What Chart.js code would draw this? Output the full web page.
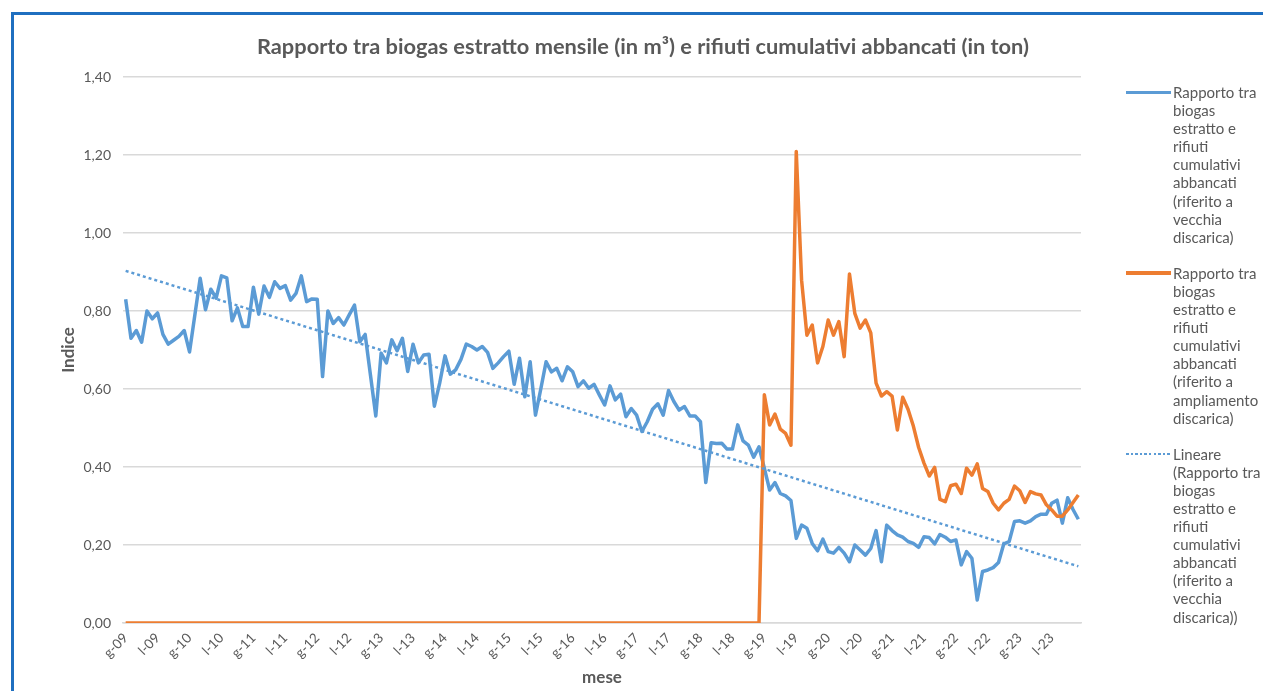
<!DOCTYPE html>
<html>
<head>
<meta charset="utf-8">
<script src="https://cdn.jsdelivr.net/npm/chart.js@4/dist/chart.umd.min.js"></script>
<style>
  html, body { margin: 0; padding: 0; background: #fff; }
  #wrap { position: relative; width: 1263px; height: 691px; overflow: hidden; background: #fff; }
  #frameTop { position: absolute; left: 11px; top: 12px; right: 0; height: 3px; background: #1f6fc0; }
  #frameLeft { position: absolute; left: 11px; top: 12px; width: 3px; bottom: 0; background: #1f6fc0; }
  #title { position: absolute; left: 0; width: 1286px; top: 32px; text-align: center; line-height: 26px;
           font: bold 21.8px Lato, sans-serif; color: #595959; white-space: nowrap; }
  #chart { position: absolute; left: 0; top: 0; }
  #legend { position: absolute; left: 1126px; top: 83px; width: 137px;
            font: 15px Lato, sans-serif; color: #595959; line-height: 18.1px; }
  .item { position: relative; padding-left: 47px; margin-bottom: 18px; }
  .swatch { position: absolute; left: 0; top: 7.5px; width: 45px; height: 3.5px; }
  .swatch.dot { top: 8px; height: 2.5px; }
</style>
</head>
<body>
<div id="wrap">
  <canvas id="chart" width="1263" height="691"></canvas>
  <div id="frameTop"></div>
  <div id="frameLeft"></div>
  <div id="title"></div>
  <div id="legend"></div>
</div>
<script>
// ---------- data ----------
const chartTitle = 'Rapporto tra biogas estratto mensile (in m³) e rifiuti cumulativi abbancati (in ton)';
const xAxisTitle = 'mese';
const yAxisTitle = 'Indice';

const monthInitials = ['g', 'f', 'm', 'a', 'm', 'g', 'l', 'a', 's', 'o', 'n', 'd'];
const years = ['09', '10', '11', '12', '13', '14', '15', '16', '17', '18', '19', '20', '21', '22', '23'];
const categories = years.flatMap(y => monthInitials.map(m => m + '-' + y));

const yTicks = [0, 0.2, 0.4, 0.6, 0.8, 1.0, 1.2, 1.4];

const seriesNames = [
  ['Rapporto tra', 'biogas', 'estratto e', 'rifiuti', 'cumulativi', 'abbancati', '(riferito a', 'vecchia', 'discarica)'],
  ['Rapporto tra', 'biogas', 'estratto e', 'rifiuti', 'cumulativi', 'abbancati', '(riferito a', 'ampliamento', 'discarica)'],
  ['Lineare', '(Rapporto tra', 'biogas', 'estratto e', 'rifiuti', 'cumulativi', 'abbancati', '(riferito a', 'vecchia', 'discarica))']
];

const vecchiaValues = [
  0.83, 0.73, 0.75, 0.72, 0.80, 0.78, 0.795, 0.74, 0.715, 0.725, 0.735, 0.75,
  0.695, 0.79, 0.884, 0.803, 0.856, 0.833, 0.89, 0.885, 0.775, 0.808, 0.76, 0.76,
  0.861, 0.792, 0.864, 0.835, 0.875, 0.858, 0.865, 0.828, 0.845, 0.89, 0.824, 0.831,
  0.83, 0.632, 0.80, 0.768, 0.783, 0.764, 0.79, 0.815, 0.721, 0.74, 0.635, 0.531,
  0.692, 0.667, 0.726, 0.698, 0.73, 0.645, 0.715, 0.667, 0.687, 0.689, 0.556, 0.615,
  0.685, 0.638, 0.649, 0.676, 0.715, 0.709, 0.70, 0.709, 0.694, 0.653, 0.667, 0.683,
  0.697, 0.612, 0.679, 0.58, 0.67, 0.533, 0.60, 0.67, 0.644, 0.653, 0.621, 0.657,
  0.644, 0.606, 0.621, 0.602, 0.612, 0.585, 0.559, 0.608, 0.572, 0.587, 0.529, 0.55,
  0.533, 0.491, 0.516, 0.548, 0.562, 0.533, 0.596, 0.568, 0.546, 0.555, 0.531, 0.531,
  0.516, 0.36, 0.462, 0.46, 0.461, 0.446, 0.446, 0.508, 0.467, 0.456, 0.425, 0.452,
  0.397, 0.341, 0.36, 0.332, 0.326, 0.314, 0.217, 0.251, 0.243, 0.204, 0.185, 0.215,
  0.183, 0.179, 0.194, 0.179, 0.157, 0.20, 0.187, 0.174, 0.191, 0.237, 0.157, 0.251,
  0.237, 0.226, 0.22, 0.209, 0.204, 0.194, 0.221, 0.219, 0.203, 0.227, 0.22, 0.209,
  0.213, 0.149, 0.183, 0.166, 0.059, 0.132, 0.136, 0.142, 0.155, 0.203, 0.209, 0.26,
  0.262, 0.256, 0.262, 0.273, 0.279, 0.279, 0.307, 0.315, 0.256, 0.321, 0.291, 0.266
];

const ampliamentoValues = [
  0, 0, 0, 0, 0, 0, 0, 0, 0, 0, 0, 0,
  0, 0, 0, 0, 0, 0, 0, 0, 0, 0, 0, 0,
  0, 0, 0, 0, 0, 0, 0, 0, 0, 0, 0, 0,
  0, 0, 0, 0, 0, 0, 0, 0, 0, 0, 0, 0,
  0, 0, 0, 0, 0, 0, 0, 0, 0, 0, 0, 0,
  0, 0, 0, 0, 0, 0, 0, 0, 0, 0, 0, 0,
  0, 0, 0, 0, 0, 0, 0, 0, 0, 0, 0, 0,
  0, 0, 0, 0, 0, 0, 0, 0, 0, 0, 0, 0,
  0, 0, 0, 0, 0, 0, 0, 0, 0, 0, 0, 0,
  0, 0, 0, 0, 0, 0, 0, 0, 0, 0, 0, 0,
  0.585, 0.508, 0.536, 0.497, 0.486, 0.456, 1.209, 0.879, 0.738, 0.764, 0.667, 0.709,
  0.777, 0.738, 0.773, 0.683, 0.895, 0.794, 0.756, 0.777, 0.744, 0.615, 0.582, 0.593,
  0.582, 0.495, 0.579, 0.548, 0.505, 0.45, 0.41, 0.377, 0.399, 0.317, 0.311, 0.352,
  0.356, 0.332, 0.397, 0.379, 0.408, 0.345, 0.337, 0.307, 0.29, 0.307, 0.317, 0.351,
  0.339, 0.309, 0.337, 0.331, 0.328, 0.303, 0.29, 0.274, 0.274, 0.29, 0.309, 0.328
];

// linear trendline (least squares) of the "vecchia discarica" series, as Excel's "Lineare"
function linearTrend(values) {
  const n = values.length;
  let sx = 0, sy = 0, sxy = 0, sxx = 0;
  values.forEach((v, i) => { const x = i + 1; sx += x; sy += v; sxy += x * v; sxx += x * x; });
  const b = (n * sxy - sx * sy) / (n * sxx - sx * sx);
  const a = (sy - b * sx) / n;
  return values.map((v, i) => a + b * (i + 1));
}
const trendValues = linearTrend(vecchiaValues);

// ---------- styles ----------
const BLUE = '#5B9BD5';
const ORANGE = '#ED7D31';
const TEXT = '#595959';
const GRID = '#D9D9D9';
const FONT = 'Lato, sans-serif';

document.getElementById('title').textContent = chartTitle;

const chart = new Chart(document.getElementById('chart').getContext('2d'), {
  type: 'line',
  data: {
    labels: categories,
    datasets: [
      { label: seriesNames[0].join(' '), data: vecchiaValues, borderColor: BLUE, backgroundColor: BLUE,
        borderWidth: 3.5, pointRadius: 0, tension: 0, order: 3, borderJoinStyle: 'round' },
      { label: seriesNames[1].join(' '), data: ampliamentoValues, borderColor: ORANGE, backgroundColor: ORANGE,
        borderWidth: 3.5, pointRadius: 0, tension: 0, order: 2, borderJoinStyle: 'round' },
      { label: seriesNames[2].join(' '), data: trendValues, borderColor: BLUE, backgroundColor: BLUE,
        borderWidth: 2.5, borderDash: [3, 3], pointRadius: 0, tension: 0, order: 1 }
    ]
  },
  options: {
    responsive: false,
    animation: false,
    layout: { padding: { left: 0, right: 182, top: 77, bottom: 0 } },
    plugins: { legend: { display: false }, title: { display: false }, tooltip: { enabled: false } },
    scales: {
      x: {
        offset: true,
        grid: { display: false, drawTicks: false },
        border: { display: true, color: GRID, width: 1.5 },
        ticks: {
          autoSkip: false, maxRotation: 45, minRotation: 45, padding: 7,
          color: TEXT, font: { family: FONT, size: 13.5 },
          callback: (v, i) => (i % 6 === 0 ? categories[i] : '')
        },
        title: { display: true, text: xAxisTitle, color: TEXT,
                 font: { family: FONT, size: 17, weight: 'bold' }, padding: { top: 0, bottom: 3 } },
        afterFit: s => { s.height = 68; }
      },
      y: {
        min: yTicks[0], max: yTicks[yTicks.length - 1],
        afterBuildTicks: s => { s.ticks = yTicks.map(v => ({ value: v })); },
        ticks: { padding: 12, color: TEXT, font: { family: FONT, size: 14 },
                 callback: v => Number(v).toFixed(2).replace('.', ',') },
        grid: { color: GRID, lineWidth: 1.5, drawTicks: false },
        border: { display: false },
        title: { display: true, text: yAxisTitle, color: TEXT,
                 font: { family: FONT, size: 17, weight: 'bold' }, padding: { top: 58, bottom: 0 } },
        afterFit: s => { s.width = 123; }
      }
    }
  }
});

// ---------- HTML legend built from the chart's datasets ----------
const legend = document.getElementById('legend');
chart.data.datasets.forEach((ds, k) => {
  const item = document.createElement('div');
  item.className = 'item';
  const sw = document.createElement('div');
  sw.className = 'swatch' + (ds.borderDash ? ' dot' : '');
  sw.style.background = ds.borderDash
    ? `repeating-linear-gradient(to right, ${ds.borderColor} 0 2.5px, transparent 2.5px 4.6px)`
    : ds.borderColor;
  item.appendChild(sw);
  seriesNames[k].forEach(line => {
    const d = document.createElement('div');
    d.textContent = line;
    item.appendChild(d);
  });
  legend.appendChild(item);
});
</script>
</body>
</html>
